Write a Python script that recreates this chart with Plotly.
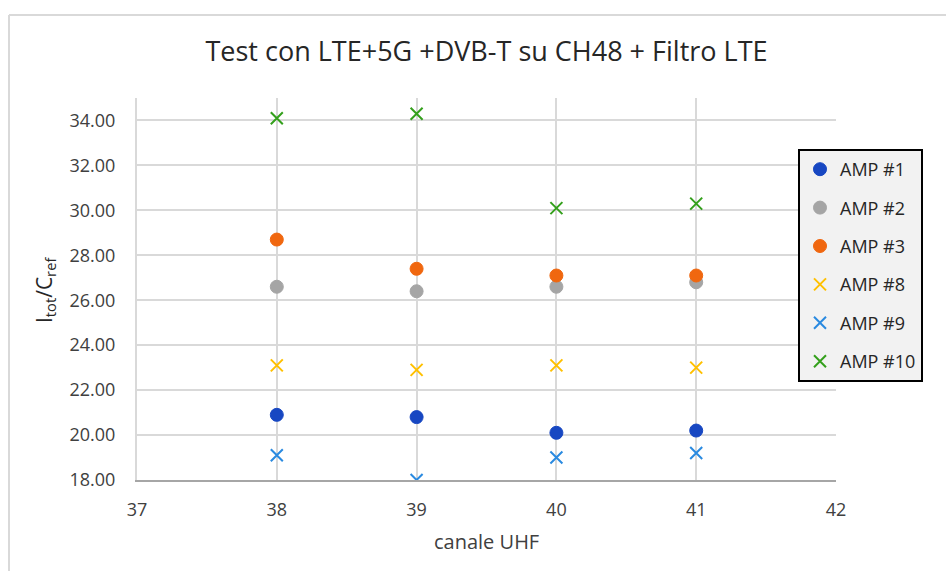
import plotly.graph_objects as go

channels = [38, 39, 40, 41]
series_names = ["AMP #1", "AMP #2", "AMP #3", "AMP #8", "AMP #9", "AMP #10"]
amp1 = [20.9, 20.8, 20.1, 20.2]
amp2 = [26.6, 26.4, 26.6, 26.8]
amp3 = [28.7, 27.4, 27.1, 27.1]
amp8 = [23.1, 22.9, 23.1, 23.0]
amp9 = [19.1, 18.0, 19.0, 19.2]
amp10 = [34.1, 34.3, 30.1, 30.3]
y_ticks = [18, 20, 22, 24, 26, 28, 30, 32, 34]
x_ticks = [37, 38, 39, 40, 41, 42]

values = [amp1, amp2, amp3, amp8, amp9, amp10]
colors = ["#1747c2", "#a5a5a5", "#f0670f", "#ffc000", "#2a8ae0", "#34a01c"]
symbols = ["circle", "circle", "circle", "x-thin", "x-thin", "x-thin"]

fig = go.Figure()
for name, vals, col, sym in zip(series_names, values, colors, symbols):
    if sym == "circle":
        marker = dict(symbol="circle", size=13, color=col, line=dict(width=1, color=col))
    else:
        marker = dict(symbol="x-thin", size=12, color=col, line=dict(width=2, color=col))
    fig.add_trace(go.Scatter(x=channels, y=vals, mode="markers", name=name,
                             marker=marker, legendgroup=name))

L, R, T, B = 137, 110, 98, 91
W, H = 946, 571
pw, ph = W - L - R, H - T - B

def px_x(px):
    return (px - L) / pw

def px_y(py):
    return (H - B - py) / ph

tick_font = dict(family="Open Sans", size=18, color="#404040")

fig.update_layout(
    width=W, height=H,
    margin=dict(l=L, r=R, t=T, b=B),
    paper_bgcolor="white", plot_bgcolor="white",
    title=dict(text="Test con LTE+5G +DVB-T su CH48 + Filtro LTE",
               x=0.5, xanchor="center", xref="paper",
               y=1 - 52 / H, yanchor="middle", yref="container",
               font=dict(family="Open Sans", size=27, color="#262626")),
    xaxis=dict(range=[37, 42], tickvals=x_ticks, showgrid=True, gridcolor="#d9d9d9",
               gridwidth=2, zeroline=False, showline=True, linecolor="#a6a6a6",
               linewidth=2, tickfont=tick_font, ticks="", ticklabelstandoff=12),
    yaxis=dict(range=[18, 35], tickvals=y_ticks, tickformat=".2f", showgrid=True,
               gridcolor="#d9d9d9", gridwidth=2, zeroline=False, showline=True,
               linecolor="#d9d9d9", linewidth=2, tickfont=tick_font, ticks="",
               ticklabelstandoff=16),
    legend=dict(x=px_x(798), y=px_y(149), xanchor="left", yanchor="top",
                bgcolor="#f2f2f2", bordercolor="#000000", borderwidth=2,
                font=dict(family="Open Sans", size=18, color="#262626"),
                tracegroupgap=12, itemwidth=30),
    showlegend=True,
    annotations=[
        dict(text="canale UHF", x=0.5, y=px_y(541), xref="paper", yref="paper",
             showarrow=False, xanchor="center", yanchor="middle",
             font=dict(family="Open Sans", size=20, color="#404040")),
        dict(text="I<sub>tot</sub>/C<sub>ref</sub>", x=px_x(45), y=px_y(290),
             xref="paper", yref="paper", showarrow=False, textangle=-90,
             xanchor="center", yanchor="middle",
             font=dict(family="Open Sans", size=21, color="#262626")),
    ],
    shapes=[
        dict(type="line", xref="paper", yref="paper", x0=px_x(9), x1=px_x(9),
             y0=px_y(15), y1=px_y(600), line=dict(color="#d9d9d9", width=2)),
        dict(type="line", xref="paper", yref="paper", x0=px_x(9), x1=px_x(960),
             y0=px_y(15), y1=px_y(15), line=dict(color="#d9d9d9", width=2)),
    ],
)

fig.write_html("out.html")
